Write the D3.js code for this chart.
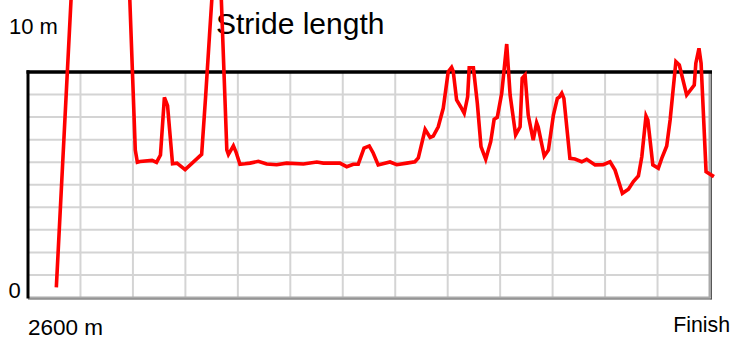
<!DOCTYPE html>
<html>
<head>
<meta charset="utf-8">
<script src="https://cdn.jsdelivr.net/npm/d3@7"></script>
<style>
  html, body { margin: 0; padding: 0; background: #fff; }
  svg { display: block; font-family: "Liberation Sans", Arial, sans-serif; }
</style>
</head>
<body>
<svg id="chart" width="733" height="341"></svg>
<script>
// Distance covered (m) and stride length (m) along the race
const distance = [
  108, 295, 409, 417, 427, 473, 490, 505, 520, 532, 551, 568, 599, 662, 677, 692, 724,
  758, 764, 783, 793, 808, 827, 846, 878, 910, 948, 986, 1050, 1101, 1126, 1189, 1215,
  1240, 1259, 1281, 1301, 1316, 1335, 1380, 1406, 1444, 1475, 1488, 1514, 1533, 1545,
  1564, 1583, 1602, 1615, 1621, 1634, 1650, 1663, 1676, 1682, 1698, 1713, 1727, 1745,
  1764, 1777, 1789, 1806, 1825, 1838, 1859, 1876, 1884, 1895, 1907, 1926, 1939, 1945,
  1968, 1984, 2003, 2018, 2026, 2035, 2043, 2066, 2085, 2111, 2130, 2162, 2193, 2219,
  2238, 2266, 2289, 2308, 2327, 2340, 2356, 2363, 2382, 2403, 2416, 2435, 2448, 2470,
  2483, 2511, 2540, 2546, 2558, 2566, 2585, 2615
];
const stride = [
  0.45, 43.0, 6.54, 6.00, 6.03, 6.08, 5.99, 6.32, 8.87, 8.51, 5.93, 5.96, 5.67, 6.35, 8.89, 11.64, 17.36,
  6.54, 6.34, 6.73, 6.45, 5.91, 5.93, 5.96, 6.04, 5.92, 5.89, 5.96, 5.92, 6.01, 5.96, 5.96, 5.80,
  5.91, 5.91, 6.62, 6.72, 6.41, 5.88, 6.01, 5.89, 5.96, 6.02, 6.19, 7.46, 7.10, 7.16,
  7.57, 8.39, 10.01, 10.21, 10.04, 8.76, 8.45, 8.17, 8.90, 10.19, 10.19, 8.61, 6.69, 6.13,
  6.91, 7.90, 7.99, 9.06, 11.24, 8.98, 7.21, 7.57, 9.72, 9.87, 8.09, 6.98, 7.75, 7.56,
  6.27, 6.54, 8.09, 8.83, 8.89, 9.06, 8.83, 6.17, 6.14, 6.02, 6.13, 5.88, 5.89, 6.02,
  5.65, 4.62, 4.80, 5.14, 5.39, 6.24, 8.05, 7.87, 5.88, 5.73, 6.17, 6.72, 7.87, 10.46,
  10.31, 8.98, 9.42, 10.39, 11.05, 10.39, 5.58, 5.36
];
const raceLength = 2600;
const strideMax = 10;
const xLabels = ["2600 m", "Finish"];
const yLabels = ["0", "10 m"];
const title = "Stride length";

const svg = d3.select("#chart");
const L = 28, R = 710, T = 72, B = 297.5;

const x = d3.scaleLinear().domain([0, raceLength]).range([L, R]);
const y = d3.scaleLinear().domain([0, strideMax]).range([B, T]);

// grid
const grid = svg.append("g").attr("stroke", "#d4d4d4").attr("stroke-width", 2);
grid.selectAll("line.v")
  .data(d3.range(200, raceLength, 200))
  .join("line")
  .attr("x1", d => x(d)).attr("x2", d => x(d))
  .attr("y1", T).attr("y2", B);
grid.selectAll("line.h")
  .data(d3.range(1, strideMax, 1))
  .join("line")
  .attr("x1", L).attr("x2", R)
  .attr("y1", d => y(d)).attr("y2", d => y(d));

// frame: grey bottom/right with a dark outer edge, black top/left
svg.append("line").attr("x1", L).attr("x2", R).attr("y1", B).attr("y2", B)
  .attr("stroke", "#aaa").attr("stroke-width", 2);
svg.append("line").attr("x1", L).attr("x2", R + 1.5).attr("y1", B + 1.5).attr("y2", B + 1.5)
  .attr("stroke", "#555").attr("stroke-width", 1);
svg.append("line").attr("x1", R - 0.5).attr("x2", R - 0.5).attr("y1", T).attr("y2", B)
  .attr("stroke", "#aaa").attr("stroke-width", 2);
svg.append("line").attr("x1", R + 1.3).attr("x2", R + 1.3).attr("y1", T).attr("y2", B + 2)
  .attr("stroke", "#444").attr("stroke-width", 1.2);
svg.append("line").attr("x1", L - 1.5).attr("x2", R + 2).attr("y1", T).attr("y2", T)
  .attr("stroke", "#000").attr("stroke-width", 3.5);
svg.append("line").attr("x1", L).attr("x2", L).attr("y1", T - 1.7).attr("y2", B + 1)
  .attr("stroke", "#000").attr("stroke-width", 3);

// labels
svg.append("text").attr("x", 9).attr("y", 34)
  .attr("font-size", 22).attr("fill", "#000").text(yLabels[1]);
svg.append("text").attr("x", 8.5).attr("y", y(0))
  .attr("font-size", 22).attr("fill", "#000").text(yLabels[0]);
svg.append("text").attr("x", x(0)).attr("y", 334.5)
  .attr("font-size", 22.5).attr("fill", "#000").text(xLabels[0]);
svg.append("text").attr("x", 730).attr("y", 332).attr("text-anchor", "end")
  .attr("font-size", 21.3).attr("fill", "#000").text(xLabels[1]);
svg.append("text").attr("x", 216).attr("y", 34)
  .attr("font-size", 30).attr("fill", "#000").text(title);

// stride line
const pts = distance.map((d, i) => [d, stride[i]]);
svg.append("path")
  .datum(pts)
  .attr("fill", "none")
  .attr("stroke", "#ff0000")
  .attr("stroke-width", 3.6)
  .attr("stroke-linejoin", "miter")
  .attr("d", d3.line().x(d => x(d[0])).y(d => y(d[1])));
</script>
</body>
</html>
